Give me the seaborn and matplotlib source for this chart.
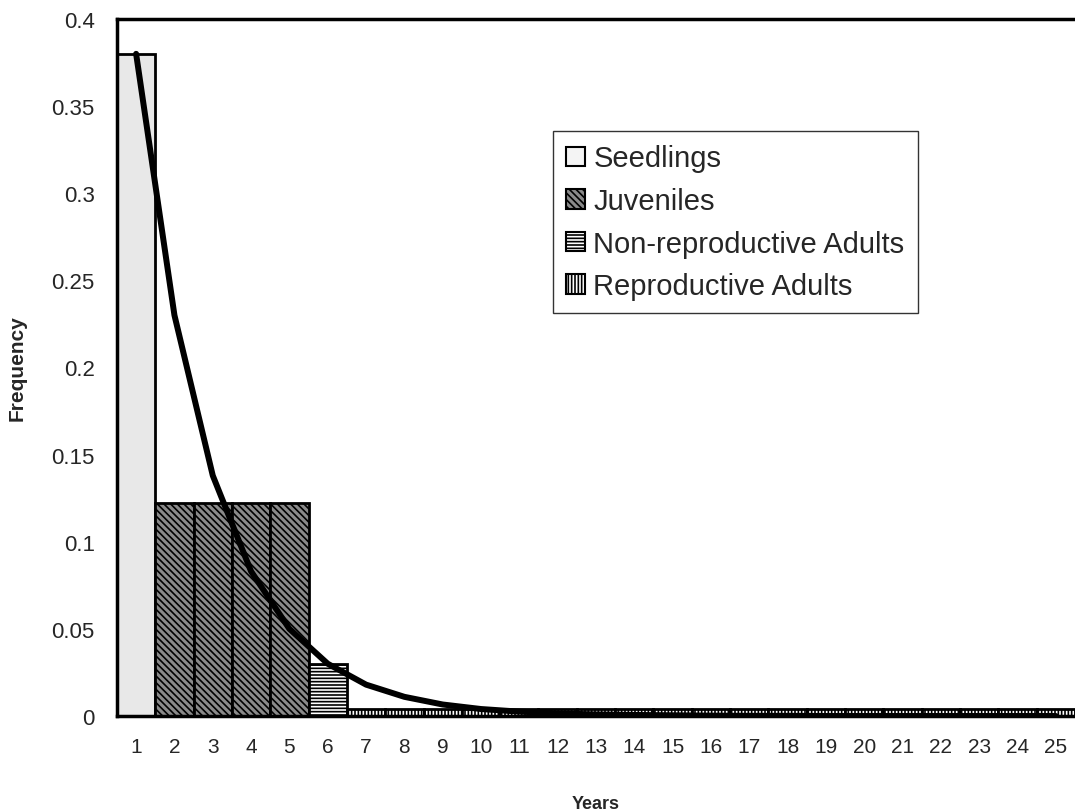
import numpy as np
import pandas as pd
import matplotlib
matplotlib.use("Agg")
import matplotlib.pyplot as plt
from matplotlib.patches import Patch
import seaborn as sns

years = [str(i) for i in range(1, 26)]
stages = ["Seedlings", "Juveniles", "Non-reproductive Adults", "Reproductive Adults"]
stage_of_year = ["Seedlings"] + ["Juveniles"] * 4 + ["Non-reproductive Adults"] + ["Reproductive Adults"] * 19
bar_freq = [0.38] + [0.122] * 4 + [0.03] + [0.004] * 19
curve_freq = [0.38, 0.23, 0.138, 0.083, 0.05, 0.03, 0.018, 0.011, 0.0066, 0.004,
              0.0025, 0.0015, 0.0009, 0.0006, 0.0004, 0.0002, 0.0001, 0.0001, 0.0,
              0.0, 0.0, 0.0, 0.0, 0.0, 0.0]
y_ticks = [0, 0.05, 0.1, 0.15, 0.2, 0.25, 0.3, 0.35, 0.4]
y_tick_labels = ["0", "0.05", "0.1", "0.15", "0.2", "0.25", "0.3", "0.35", "0.4"]

styles = {
    "Seedlings": dict(face="#e8e8e8", hatch=""),
    "Juveniles": dict(face="#8a8a8a", hatch="\\\\\\\\\\"),
    "Non-reproductive Adults": dict(face="white", hatch="-----"),
    "Reproductive Adults": dict(face="white", hatch="|||||"),
}

sns.set_style("white")
plt.rcParams["font.family"] = ["Liberation Sans", "DejaVu Sans"]
plt.rcParams["hatch.linewidth"] = 1.2
plt.rcParams["hatch.color"] = "black"

df = pd.DataFrame({"Year": years, "Freq": bar_freq, "Stage": stage_of_year})

fig = plt.figure(figsize=(10.75, 8.12), dpi=100)
ax = fig.add_axes([0.1088, 0.117, 0.8912, 0.8584])

sns.barplot(data=df, x="Year", y="Freq", hue="Stage", order=years, hue_order=stages,
            dodge=False, width=1.0, palette=["white"] * 4, legend=False, ax=ax,
            linewidth=2, edgecolor="black")

for cont, st in zip(ax.containers, stages):
    for p in cont.patches:
        p.set_facecolor(styles[st]["face"])
        p.set_hatch(styles[st]["hatch"])
        p.set_edgecolor("black")
        p.set_linewidth(2)

sns.lineplot(x=np.arange(len(years)), y=curve_freq, color="black", linewidth=4.3, ax=ax)

ax.set_xlim(-0.5, len(years) - 0.5)
ax.set_ylim(0, 0.4)
ax.set_yticks(y_ticks)
ax.set_yticklabels(y_tick_labels)
ax.tick_params(axis="both", which="both", direction="out", length=6, width=1,
               color="black")
ax.tick_params(axis="x", labelsize=15, pad=9)
ax.tick_params(axis="y", labelsize=16, pad=10)

for s in ["left", "top", "bottom"]:
    ax.spines[s].set_visible(True)
    ax.spines[s].set_color("black")
    ax.spines[s].set_linewidth(2.5)
ax.spines["right"].set_visible(False)

ax.set_xlabel("Years", fontsize=13, fontweight="bold", labelpad=28)
ax.set_ylabel("Frequency", fontsize=15, fontweight="bold", labelpad=18)

handles = [Patch(facecolor=styles[s]["face"], edgecolor="black", hatch=styles[s]["hatch"],
                 linewidth=1.5) for s in stages]
handles[0] = Patch(facecolor="#f4f4f4", edgecolor="black", linewidth=1.5)
leg = fig.legend(handles, stages, loc="upper left", bbox_to_anchor=(0.514, 0.837),
                 fontsize=21, frameon=True, fancybox=False, edgecolor="black",
                 handlelength=0.65, handleheight=0.65, handletextpad=0.3,
                 labelspacing=0.5, borderpad=0.45, borderaxespad=0)
leg.get_frame().set_linewidth(1)

fig.savefig("out.png", dpi=100)
